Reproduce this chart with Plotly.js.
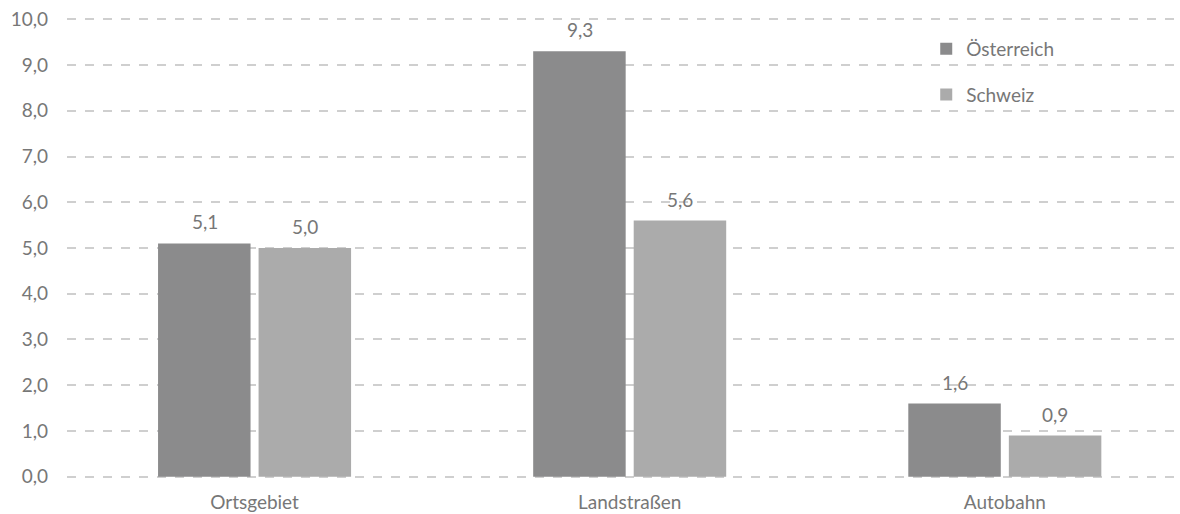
<!DOCTYPE html>
<html>
<head>
<meta charset="utf-8">
<script src="https://cdn.plot.ly/plotly-3.0.1.min.js"></script>
<style>html,body{margin:0;padding:0;background:#fff;}#chart{width:1180px;height:514px;}</style>
</head>
<body>
<div id="chart"></div>
<script>
const categories = ['Ortsgebiet', 'Landstraßen', 'Autobahn'];
const seriesNames = ['Österreich', 'Schweiz'];
const oesterreich = [5.1, 9.3, 1.6];
const schweiz = [5.0, 5.6, 0.9];
const yTicks = [0,1,2,3,4,5,6,7,8,9,10];

const colors = ['#8b8b8c', '#ababab'];
const textColor = '#777777';
const fontFamily = 'Lato, "Open Sans", sans-serif';
const series = [oesterreich, schweiz];

const traces = series.map((vals, i) => ({
  type: 'bar',
  name: seriesNames[i],
  x: categories,
  y: vals,
  marker: {color: colors[i]},
  legendgroup: 'g' + i,
  hoverinfo: 'skip'
}));

const annotations = [];
series.forEach((vals, i) => {
  vals.forEach((v, j) => {
    annotations.push({
      x: categories[j], y: v, xref: 'x', yref: 'y',
      text: v.toFixed(1).replace('.', ','),
      showarrow: false, yanchor: 'bottom',
      xshift: i === 0 ? -50 : 50, yshift: 8,
      font: {family: fontFamily, size: 19, color: textColor}
    });
  });
});

const layout = {
  width: 1180, height: 514,
  margin: {l: 67, r: 0, t: 17, b: 35},
  paper_bgcolor: '#ffffff', plot_bgcolor: '#ffffff',
  separators: ',.',
  barmode: 'group', bargap: 0.464, bargroupgap: 0.08,
  font: {family: fontFamily, color: textColor, size: 19},
  xaxis: {
    type: 'category', range: [-0.5, 2.467],
    showgrid: false, zeroline: false, showline: false, ticks: '',
    ticklabelstandoff: 10,
    tickfont: {family: fontFamily, size: 19, color: textColor}
  },
  yaxis: {
    range: [-0.05, 10.05], tickvals: yTicks, tickformat: '.1f',
    showgrid: true, gridcolor: '#cfcfcf', gridwidth: 2, griddash: 'dash',
    zeroline: false, showline: false, ticks: '',
    ticklabelstandoff: 18,
    tickfont: {family: fontFamily, size: 19, color: textColor}
  },
  showlegend: true,
  legend: {
    x: 0.772, y: 0.972, xanchor: 'left', yanchor: 'top',
    bgcolor: 'rgba(0,0,0,0)', traceorder: 'grouped', tracegroupgap: 18,
    font: {family: fontFamily, size: 19, color: textColor}
  },
  annotations: annotations
};

Plotly.newPlot('chart', traces, layout, {displayModeBar: false, staticPlot: true});
</script>
</body>
</html>
